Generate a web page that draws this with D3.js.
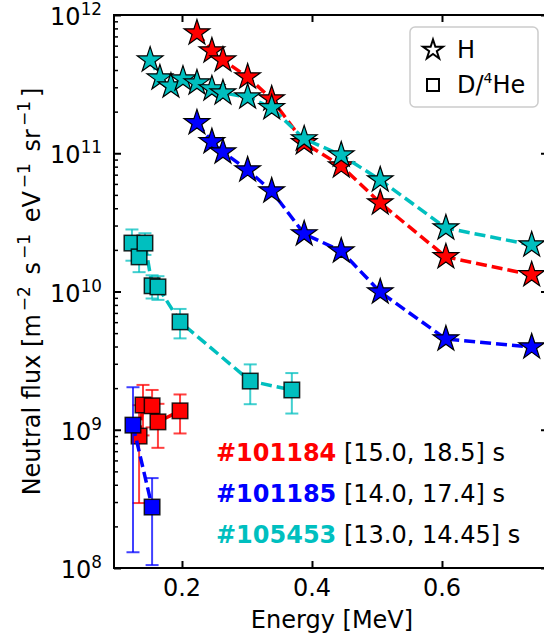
<!DOCTYPE html>
<html>
<head>
<meta charset="utf-8">
<script src="https://cdn.jsdelivr.net/npm/d3@7"></script>
<style>
  body { margin: 0; background: #fff; }
  svg { display: block; }
</style>
</head>
<body>
<svg id="chart" width="544" height="639"></svg>
<script>
// ---- H channel (stars): energy [MeV] and neutral flux [m^-2 s^-1 eV^-1 sr^-1]
const eH_101184 = [0.223, 0.246, 0.263, 0.301, 0.338, 0.388, 0.445, 0.505, 0.606, 0.738];
const fH_101184 = [7.41e11, 5.49e11, 4.72e11, 3.56e11, 2.47e11, 1.19e11, 8.09e10, 4.37e10, 1.78e10, 1.32e10];

const eH_101185 = [0.223, 0.246, 0.263, 0.301, 0.338, 0.388, 0.445, 0.505, 0.606, 0.738];
const fH_101185 = [1.66e11, 1.21e11, 1.02e11, 7.57e10, 5.33e10, 2.61e10, 1.96e10, 9.91e9, 4.53e9, 3.97e9];

const eH_105453 = [0.151, 0.166, 0.183, 0.2015, 0.223, 0.246, 0.263, 0.301, 0.338, 0.388, 0.445, 0.505, 0.606, 0.738];
const fH_105453 = [4.72e11, 3.50e11, 3.06e11, 3.44e11, 3.22e11, 2.92e11, 2.73e11, 2.55e11, 2.13e11, 1.27e11, 9.71e10, 6.41e10, 2.88e10, 2.17e10];

// ---- D/4He channel (squares) with symmetric errors
const eD_101184 = [0.134, 0.140, 0.154, 0.163, 0.197];
const fD_101184 = [9.0e8, 1.51e9, 1.49e9, 1.14e9, 1.37e9];
const sD_101184 = [6.05e8, 6.0e8, 4.5e8, 4.0e8, 4.3e8];

const eD_101185 = [0.1246, 0.154];
const fD_101185 = [1.08e9, 2.76e8];
const sD_101185 = [9.5e8, 1.71e8];

const eD_105453 = [0.123, 0.134, 0.143, 0.154, 0.163, 0.197, 0.305, 0.369];
const fD_105453 = [2.24e10, 1.78e10, 2.24e10, 1.10e10, 1.08e10, 6.03e9, 2.25e9, 1.94e9];
const sD_105453 = [5.7e9, 4.0e9, 4.0e9, 2.1e9, 2.1e9, 1.45e9, 7.2e8, 6.3e8];

// ---- shots and time windows
const shots = ["#101184", "#101185", "#105453"];
const windows = ["[15.0, 18.5] s", "[14.0, 17.4] s", "[13.0, 14.45] s"];
const shotColors = ["#ff0000", "#0000ff", "#00bfbf"];

// ---- axes
const xTicks = [0.2, 0.4, 0.6];
const yTickExps = [8, 9, 10, 11, 12];

const FONT = "DejaVu Sans, Verdana, sans-serif";
const M = { left: 114, right: 548, top: 15, bottom: 568 };

const svg = d3.select("#chart");

const x = d3.scaleLinear().domain([0.0954, 0.7631]).range([M.left, M.right]);
const y = d3.scaleLog().domain([1e8, 1e12]).range([M.bottom, M.top]);

const plot = svg.append("g");

// five-pointed star centred on 0,0
function starPath(R) {
  const r = R * 0.381966;
  const pts = [];
  for (let i = 0; i < 10; i++) {
    const a = -Math.PI / 2 + i * Math.PI / 5;
    const rad = i % 2 === 0 ? R : r;
    pts.push([rad * Math.cos(a), rad * Math.sin(a)]);
  }
  return "M" + pts.map(p => p[0].toFixed(2) + "," + p[1].toFixed(2)).join("L") + "Z";
}

const dashLine = d3.line().x(d => x(d[0])).y(d => y(d[1]));

function drawStars(es, fs, color) {
  const pts = es.map((e, i) => [e, fs[i]]);
  plot.append("path")
    .attr("d", dashLine(pts))
    .attr("fill", "none")
    .attr("stroke", color)
    .attr("stroke-width", 3.5)
    .attr("stroke-dasharray", "11,5");
  plot.append("g").selectAll("path").data(pts).join("path")
    .attr("d", starPath(13.5))
    .attr("transform", d => `translate(${x(d[0])},${y(d[1])})`)
    .attr("fill", color)
    .attr("stroke", "#000")
    .attr("stroke-width", 1.2)
    .attr("stroke-linejoin", "miter");
}

function drawSquares(es, fs, ss, color) {
  const pts = es.map((e, i) => [e, fs[i], ss[i]]);
  plot.append("path")
    .attr("d", dashLine(pts))
    .attr("fill", "none")
    .attr("stroke", color)
    .attr("stroke-width", 3.5)
    .attr("stroke-dasharray", "11,5");
  const eb = plot.append("g")
    .attr("stroke", color)
    .attr("stroke-opacity", 0.75)
    .attr("stroke-width", 2)
    .attr("fill", "none");
  pts.forEach(d => {
    const cx = x(d[0]);
    const lo = Math.max(d[1] - d[2], 1e7);
    const y1 = y(d[1] + d[2]), y0 = y(lo);
    eb.append("line").attr("x1", cx).attr("x2", cx).attr("y1", y1).attr("y2", y0);
    eb.append("line").attr("x1", cx - 6.5).attr("x2", cx + 6.5).attr("y1", y1).attr("y2", y1);
    eb.append("line").attr("x1", cx - 6.5).attr("x2", cx + 6.5).attr("y1", y0).attr("y2", y0);
  });
  const s = 15.5;
  plot.append("g").selectAll("rect").data(pts).join("rect")
    .attr("x", d => x(d[0]) - s / 2)
    .attr("y", d => y(d[1]) - s / 2)
    .attr("width", s).attr("height", s)
    .attr("fill", color)
    .attr("stroke", "#000")
    .attr("stroke-opacity", 0.85)
    .attr("stroke-width", 1.5);
}

// clip to the axes box
svg.append("defs").append("clipPath").attr("id", "box")
  .append("rect").attr("x", M.left).attr("y", M.top)
  .attr("width", M.right - M.left).attr("height", M.bottom - M.top);
plot.attr("clip-path", "url(#box)");

drawSquares(eD_101184, fD_101184, sD_101184, shotColors[0]);
drawStars(eH_101184, fH_101184, shotColors[0]);
drawSquares(eD_101185, fD_101185, sD_101185, shotColors[1]);
drawStars(eH_101185, fH_101185, shotColors[1]);
drawSquares(eD_105453, fD_105453, sD_105453, shotColors[2]);
drawStars(eH_105453, fH_105453, shotColors[2]);

// ---- ticks (inward on all four sides)
const axes = svg.append("g");
const majorLen = 7, minorLen = 4;

const minorY = [];
for (let k = 8; k < 12; k++) for (let m = 2; m <= 9; m++) minorY.push(m * Math.pow(10, k));
const majorY = yTickExps.map(e => Math.pow(10, e));

function styleAxis(g, w) {
  g.select(".domain").remove();
  g.selectAll(".tick line").attr("stroke", "#000").attr("stroke-width", w);
}
const noLabel = a => a.tickSizeOuter(0).tickFormat("");
axes.append("g").attr("transform", `translate(0,${M.bottom})`)
  .call(noLabel(d3.axisBottom(x).tickValues(xTicks).tickSizeInner(-majorLen))).call(g => styleAxis(g, 2));
axes.append("g").attr("transform", `translate(0,${M.top})`)
  .call(noLabel(d3.axisTop(x).tickValues(xTicks).tickSizeInner(-majorLen))).call(g => styleAxis(g, 2));
axes.append("g").attr("transform", `translate(${M.left},0)`)
  .call(noLabel(d3.axisLeft(y).tickValues(majorY).tickSizeInner(-majorLen))).call(g => styleAxis(g, 2));
axes.append("g").attr("transform", `translate(${M.left},0)`)
  .call(noLabel(d3.axisLeft(y).tickValues(minorY).tickSizeInner(-minorLen))).call(g => styleAxis(g, 1.5));
axes.append("g").attr("transform", `translate(${M.right},0)`)
  .call(noLabel(d3.axisRight(y).tickValues(majorY).tickSizeInner(-majorLen))).call(g => styleAxis(g, 2));
axes.append("g").attr("transform", `translate(${M.right},0)`)
  .call(noLabel(d3.axisRight(y).tickValues(minorY).tickSizeInner(-minorLen))).call(g => styleAxis(g, 1.5));

// frame
axes.append("rect")
  .attr("x", M.left).attr("y", M.top)
  .attr("width", M.right - M.left).attr("height", M.bottom - M.top)
  .attr("fill", "none").attr("stroke", "#000").attr("stroke-width", 2);

// ---- tick labels
const txt = svg.append("g").attr("font-family", FONT).attr("fill", "#000");

txt.selectAll("text.xt").data(xTicks).join("text")
  .attr("class", "xt")
  .attr("x", d => x(d)).attr("y", 596)
  .attr("text-anchor", "middle")
  .attr("font-size", 24)
  .text(d => d3.format(".1f")(d));

yTickExps.forEach(e => {
  const t = txt.append("text")
    .attr("x", 102).attr("y", y(Math.pow(10, e)) + 10)
    .attr("text-anchor", "end")
    .attr("font-size", 24);
  t.append("tspan").text("10");
  t.append("tspan").attr("font-size", 16.8).attr("dy", -10).text(String(e));
});

// ---- axis labels
txt.append("text")
  .attr("x", 332).attr("y", 628)
  .attr("text-anchor", "middle")
  .attr("font-size", 24)
  .text("Energy [MeV]");

const yl = txt.append("text")
  .attr("transform", `translate(40,${(M.top + M.bottom) / 2}) rotate(-90)`)
  .attr("text-anchor", "middle")
  .attr("font-size", 24);
const ylParts = [["Neutral flux [m", 0], ["−2", 1], [" s", 0], ["−1", 1], [" eV", 0], ["−1", 1], [" sr", 0], ["−1", 1], ["]", 0]];
ylParts.forEach(([s, sup], i) => {
  yl.append("tspan")
    .attr("font-size", sup ? 17 : 24)
    .attr("dx", i === 0 ? 0 : (sup ? 3 : 4))
    .attr("dy", sup ? -10 : (i === 0 ? 0 : 10))
    .text(s);
});

// ---- shot annotations
shots.forEach((s, i) => {
  const t = txt.append("text")
    .attr("x", 216).attr("y", 461 + i * 41)
    .attr("font-size", 24);
  t.append("tspan").attr("font-weight", "bold").attr("fill", shotColors[i]).text(s);
  t.append("tspan").attr("fill", "#000").text(" " + windows[i]);
});

// ---- legend
const lg = svg.append("g");
lg.append("rect")
  .attr("x", 410).attr("y", 27).attr("width", 128).attr("height", 80)
  .attr("rx", 5)
  .attr("fill", "#fff").attr("fill-opacity", 0.8)
  .attr("stroke", "#cccccc").attr("stroke-width", 1.5);
lg.append("path")
  .attr("d", starPath(10.5))
  .attr("transform", "translate(433,50)")
  .attr("fill", "none").attr("stroke", "#000").attr("stroke-width", 2);
lg.append("rect")
  .attr("x", 427).attr("y", 79).attr("width", 12).attr("height", 12)
  .attr("fill", "none").attr("stroke", "#000").attr("stroke-width", 2);
lg.append("text")
  .attr("x", 457).attr("y", 58)
  .attr("font-family", FONT).attr("font-size", 24)
  .text("H");
const l2 = lg.append("text")
  .attr("x", 457).attr("y", 93)
  .attr("font-family", FONT).attr("font-size", 24);
l2.append("tspan").text("D/");
l2.append("tspan").attr("font-size", 14).attr("dy", -10).text("4");
l2.append("tspan").attr("dy", 10).text("He");
</script>
</body>
</html>
